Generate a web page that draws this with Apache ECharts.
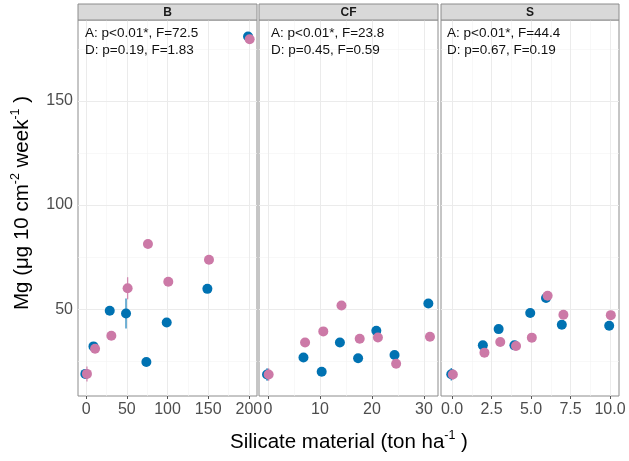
<!DOCTYPE html>
<html>
<head>
<meta charset="utf-8">
<script src="https://cdn.jsdelivr.net/npm/echarts@6/dist/echarts.min.js"></script>
<style>
  html, body { margin: 0; padding: 0; background: #fff; }
  #chart { width: 629px; height: 461px; }
</style>
</head>
<body>
<div id="chart"></div>
<script>
// Facet names and statistics text
const panelNames = ['B', 'CF', 'S'];
const statsA = ['A: p<0.01*, F=72.5', 'A: p<0.01*, F=23.8', 'A: p<0.01*, F=44.4'];
const statsD = ['D: p=0.19, F=1.83', 'D: p=0.45, F=0.59', 'D: p=0.67, F=0.19'];

// Silicate doses (ton/ha) per material
const doseB  = [0, 10, 30, 50, 75, 100, 150, 200];
const doseCF = [0, 7, 10.5, 14, 17.5, 21, 24.5, 31];
const doseS  = [0, 2, 3, 4, 5, 6, 7, 10];

// Mg flux, first group (blue)
const mgBlueB  = [19.0, 32.2, 49.3, 48.0, 24.7, 43.7, 59.8, 180.9];
const mgBlueCF = [18.7, 26.9, 20.0, 34.1, 26.5, 39.7, 28.1, 52.8];
const mgBlueS  = [18.8, 32.7, 40.5, 32.7, 48.2, 55.4, 42.6, 42.1];
// Mg flux, second group (pink)
const mgPinkB  = [19.0, 31.1, 37.3, 60.1, 81.3, 63.2, 73.8, 179.6];
const mgPinkCF = [18.7, 34.1, 39.4, 51.8, 35.9, 36.5, 23.9, 36.8];
const mgPinkS  = [18.7, 29.2, 34.3, 32.4, 36.4, 56.5, 47.4, 47.2];

// Standard errors (0 = bar hidden under the point)
const seBlueB  = [0, 0, 0, 7.2, 0, 0, 0, 0];
const seBlueCF = [3.0, 0, 0, 0, 0, 0, 0, 0];
const seBlueS  = [3.0, 0, 0, 0, 0, 0, 0, 0];
const sePinkB  = [3.6, 0, 0, 5.3, 0, 0, 0, 0];
const sePinkCF = [3.0, 0, 0, 0, 0, 0, 0, 0];
const sePinkS  = [2.5, 0, 0, 0, 0, 0, 0, 0];

// Axis ticks
const yTicks = [50, 100, 150];
const yMinor = [25, 75, 125, 175];
const xTicksB  = [0, 50, 100, 150, 200];
const xMinorB  = [25, 75, 125, 175];
const xTicksCF = [0, 10, 20, 30];
const xMinorCF = [5, 15, 25];
const xTicksS  = [0, 2.5, 5, 7.5, 10];
const xMinorS  = [1.25, 3.75, 6.25, 8.75];

const BLUE = '#0072B2';
const PINK = '#CC79A7';
const FONT = '"Liberation Sans", Arial, sans-serif';
const DODGE = 0.8;   // horizontal pixel dodge between the two groups
const RADIUS = 5;

const panels = [
  { dose: doseB,  blue: mgBlueB,  pink: mgPinkB,  seB: seBlueB,  seP: sePinkB,
    ticks: xTicksB,  minor: xMinorB,  xmin: -10,  xmax: 210,  fmt: v => String(v),
    grid: { left: 78,  top: 20, width: 179, height: 376 } },
  { dose: doseCF, blue: mgBlueCF, pink: mgPinkCF, seB: seBlueCF, seP: sePinkCF,
    ticks: xTicksCF, minor: xMinorCF, xmin: -1.7, xmax: 32.7, fmt: v => String(v),
    grid: { left: 259, top: 20, width: 179, height: 376 } },
  { dose: doseS,  blue: mgBlueS,  pink: mgPinkS,  seB: seBlueS,  seP: sePinkS,
    ticks: xTicksS,  minor: xMinorS,  xmin: -0.7, xmax: 10.57, fmt: v => v.toFixed(1),
    grid: { left: 441, top: 20, width: 178, height: 376 } }
];
const Y_MIN = 8.4, Y_MAX = 188.8;

const grid = [], xAxis = [], yAxis = [], series = [], graphic = [];

// Error bars and points for one group, dodged by a pixel offset
function errorBars(i, dose, vals, se, color, off) {
  return {
    type: 'custom', xAxisIndex: i, yAxisIndex: i, z: 3, silent: true,
    data: dose.map((d, k) => [d, vals[k], se[k]]).filter(r => r[2] > 0),
    renderItem: (params, api) => {
      const x = api.value(0), y = api.value(1), e = api.value(2);
      const p1 = api.coord([x, y - e]);
      const p2 = api.coord([x, y + e]);
      return {
        type: 'line',
        shape: { x1: p1[0] + off, y1: p1[1], x2: p2[0] + off, y2: p2[1] },
        style: { stroke: color, lineWidth: 1.3, opacity: 0.85 }
      };
    }
  };
}
function points(i, dose, vals, color, off, z) {
  return {
    type: 'custom', xAxisIndex: i, yAxisIndex: i, z: z, silent: true,
    data: dose.map((d, k) => [d, vals[k]]),
    renderItem: (params, api) => {
      const c = api.coord([api.value(0), api.value(1)]);
      return {
        type: 'circle',
        shape: { cx: c[0] + off, cy: c[1], r: RADIUS },
        style: { fill: color }
      };
    }
  };
}

panels.forEach((p, i) => {
  grid.push(Object.assign({ show: true, backgroundColor: '#fff', borderColor: '#8c8c8c', borderWidth: 1 }, p.grid));
  xAxis.push({
    type: 'value', gridIndex: i, min: p.xmin, max: p.xmax,
    axisLine: { show: false }, splitLine: { show: false },
    axisTick: { show: true, customValues: p.ticks, length: 3, lineStyle: { color: '#555' } },
    axisLabel: { customValues: p.ticks, formatter: p.fmt, color: '#4d4d4d', fontSize: 16, fontFamily: FONT, margin: 6 }
  });
  yAxis.push({
    type: 'value', gridIndex: i, min: Y_MIN, max: Y_MAX,
    axisLine: { show: false }, splitLine: { show: false },
    axisTick: { show: i === 0, customValues: yTicks, length: 3, lineStyle: { color: '#555' } },
    axisLabel: { show: i === 0, customValues: yTicks, color: '#4d4d4d', fontSize: 16, fontFamily: FONT, margin: 5 }
  });

  // Panel gridlines, kept beneath the points
  const major = { color: '#ebebeb', width: 1, type: 'solid' };
  const minor = { color: '#f4f4f4', width: 0.6, type: 'solid' };
  series.push({
    type: 'line', xAxisIndex: i, yAxisIndex: i, data: [], z: 1, silent: true,
    markLine: {
      z: 1, silent: true, symbol: 'none', animation: false, label: { show: false },
      emphasis: { disabled: true },
      data: [
        ...yMinor.map(v => ({ yAxis: v, lineStyle: minor })),
        ...p.minor.map(v => ({ xAxis: v, lineStyle: minor })),
        ...yTicks.map(v => ({ yAxis: v, lineStyle: major })),
        ...p.ticks.map(v => ({ xAxis: v, lineStyle: major }))
      ]
    }
  });

  series.push(errorBars(i, p.dose, p.blue, p.seB, BLUE, -DODGE));
  series.push(errorBars(i, p.dose, p.pink, p.seP, PINK, DODGE));
  series.push(points(i, p.dose, p.blue, BLUE, -DODGE, 4));
  series.push(points(i, p.dose, p.pink, PINK, DODGE, 5));

  // Facet strip
  const g = p.grid;
  graphic.push({
    type: 'rect', shape: { x: g.left, y: 4, width: g.width, height: 16 },
    style: { fill: '#d9d9d9', stroke: '#8c8c8c', lineWidth: 1 }, z: 10
  });
  graphic.push({
    type: 'text', x: g.left + g.width / 2, y: 12.5, z: 11,
    style: { text: panelNames[i], font: 'bold 12px ' + FONT, fill: '#1a1a1a', textAlign: 'center', textVerticalAlign: 'middle' }
  });
  // Statistics text
  const tx = [85, 271, 447][i];
  graphic.push({
    type: 'text', x: tx, y: 33, z: 11,
    style: { text: statsA[i], font: '13.5px ' + FONT, fill: '#111', textAlign: 'left', textVerticalAlign: 'middle' }
  });
  graphic.push({
    type: 'text', x: tx, y: 50, z: 11,
    style: { text: statsD[i], font: '13.5px ' + FONT, fill: '#111', textAlign: 'left', textVerticalAlign: 'middle' }
  });
});

// Axis titles with superscripts
const titleRich = {
  a: { fontSize: 20.5, fontFamily: FONT, color: '#1a1a1a', lineHeight: 25 },
  s: { fontSize: 12.5, fontFamily: FONT, color: '#1a1a1a', verticalAlign: 'top' }
};
graphic.push({
  type: 'text', x: 22, y: 203, rotation: Math.PI / 2, z: 11,
  style: {
    text: '{a|Mg (μg 10 cm}{s|-2}{a| week}{s|-1}{a| )}',
    rich: titleRich, textAlign: 'center', textVerticalAlign: 'middle'
  }
});
graphic.push({
  type: 'text', x: 349, y: 442, z: 11,
  style: {
    text: '{a|Silicate material (ton ha}{s|-1}{a| )}',
    rich: titleRich, textAlign: 'center', textVerticalAlign: 'middle'
  }
});

const chart = echarts.init(document.getElementById('chart'), null, { renderer: 'canvas' });
chart.setOption({
  animation: false,
  backgroundColor: '#fff',
  grid, xAxis, yAxis, series, graphic
});
</script>
</body>
</html>
